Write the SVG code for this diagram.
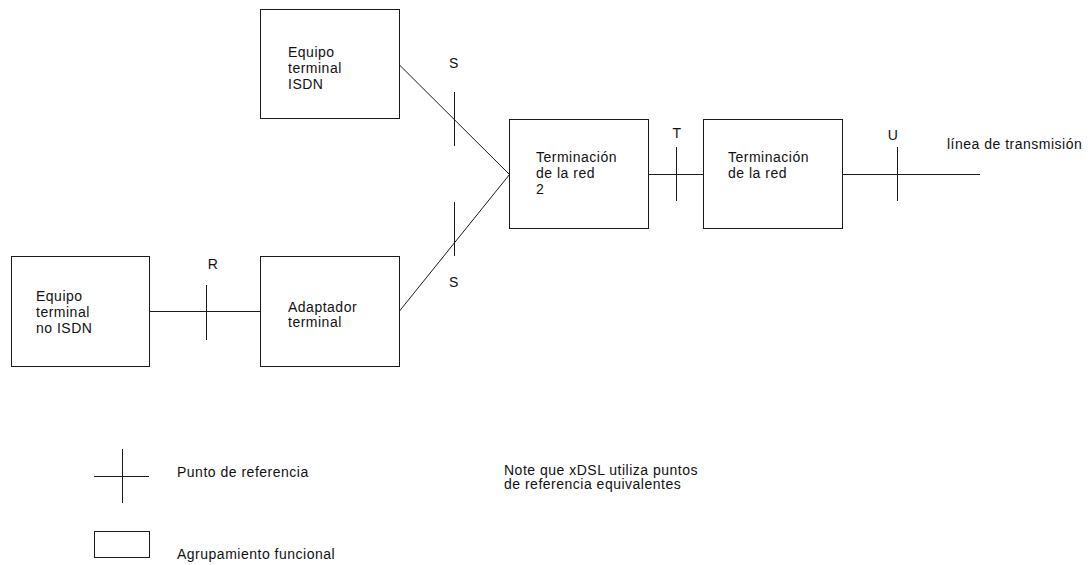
<svg xmlns="http://www.w3.org/2000/svg" width="1090" height="565" viewBox="0 0 1090 565">
  <style>
    .box { fill: #ffffff; stroke: #1a1a1a; stroke-width: 1; }
    .wire { fill: none; stroke: #1a1a1a; stroke-width: 1; }
    .tick { fill: none; stroke: #1a1a1a; stroke-width: 1; }
    text { font-family: "Liberation Sans", Arial, sans-serif; font-size: 14px; letter-spacing: 0.5px; fill: #111111; }
    .ref { text-anchor: middle; }
  </style>
  <rect width="1090" height="565" fill="#ffffff"/>

  <!-- Functional groups -->
  <g id="te-isdn">
    <rect class="box" x="260.5" y="9.5" width="139" height="109"/>
    <text x="288" y="57">Equipo</text>
    <text x="288" y="73">terminal</text>
    <text x="288" y="89">ISDN</text>
  </g>
  <g id="te-no-isdn">
    <rect class="box" x="11.5" y="256.5" width="138" height="110"/>
    <text x="36" y="301">Equipo</text>
    <text x="36" y="317">terminal</text>
    <text x="36" y="333">no ISDN</text>
  </g>
  <g id="adaptador">
    <rect class="box" x="260.5" y="256.5" width="139" height="110"/>
    <text x="288" y="312">Adaptador</text>
    <text x="288" y="327">terminal</text>
  </g>
  <g id="nt2">
    <rect class="box" x="509.5" y="119.5" width="139" height="109"/>
    <text x="536" y="162">Terminación</text>
    <text x="536" y="178">de la red</text>
    <text x="536" y="194">2</text>
  </g>
  <g id="nt1">
    <rect class="box" x="703.5" y="119.5" width="139" height="109"/>
    <text x="728" y="162">Terminación</text>
    <text x="728" y="178">de la red</text>
  </g>

  <!-- Connectors -->
  <g id="connectors">
    <line class="wire" x1="399.5" y1="65" x2="509.5" y2="174.5"/>
    <line class="wire" x1="399.5" y1="311" x2="509.5" y2="174.5"/>
    <line class="wire" x1="149.5" y1="311.5" x2="260.5" y2="311.5"/>
    <line class="wire" x1="648.5" y1="174.5" x2="703.5" y2="174.5"/>
    <line class="wire" x1="842.5" y1="174.5" x2="980" y2="174.5"/>
  </g>

  <!-- Reference points -->
  <g id="ref-points">
    <line class="tick" x1="454.5" y1="92" x2="454.5" y2="146"/>
    <text class="ref" x="454" y="68">S</text>
    <line class="tick" x1="454.5" y1="202" x2="454.5" y2="256"/>
    <text class="ref" x="454" y="287">S</text>
    <line class="tick" x1="206.5" y1="285" x2="206.5" y2="340"/>
    <text class="ref" x="213" y="269">R</text>
    <line class="tick" x1="676.5" y1="147" x2="676.5" y2="201"/>
    <text class="ref" x="677" y="138">T</text>
    <line class="tick" x1="897.5" y1="147" x2="897.5" y2="201"/>
    <text class="ref" x="893" y="140">U</text>
  </g>

  <text id="linea" x="947" y="149">línea de transmisión</text>

  <!-- Legend -->
  <g id="legend">
    <line class="tick" x1="94" y1="476.5" x2="149" y2="476.5"/>
    <line class="tick" x1="122.5" y1="449" x2="122.5" y2="503"/>
    <text x="177" y="477">Punto de referencia</text>
    <rect class="box" x="94.5" y="531.5" width="55" height="26"/>
    <text x="177" y="559">Agrupamiento funcional</text>
  </g>
  <g id="note">
    <text x="504" y="475">Note que xDSL utiliza puntos</text>
    <text x="504" y="489">de referencia equivalentes</text>
  </g>
</svg>
